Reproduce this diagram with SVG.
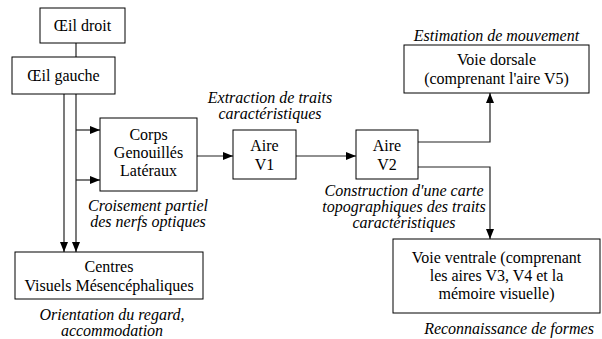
<svg xmlns="http://www.w3.org/2000/svg" width="602" height="339" viewBox="0 0 602 339">
<defs>
<marker id="ah" viewBox="0 0 10 8" refX="10" refY="4" markerWidth="10" markerHeight="8" markerUnits="userSpaceOnUse" orient="auto">
<path d="M0,0 L10,4 L0,8 Z" fill="#000"/>
</marker>
</defs>
<rect width="602" height="339" fill="#fff"/>
<g id="connectors" fill="none" stroke="#222" stroke-width="1.2">
<path d="M76,43 V57"/>
<path d="M64,94 V252" marker-end="url(#ah)"/>
<path d="M76,94 V252" marker-end="url(#ah)"/>
<path d="M76,130 H100" marker-end="url(#ah)"/>
<path d="M76,180 H100" marker-end="url(#ah)"/>
<path d="M197,156 H233" marker-end="url(#ah)"/>
<path d="M296,156 H356" marker-end="url(#ah)"/>
<path d="M418,142 H490 V93" marker-end="url(#ah)"/>
<path d="M418,167 H490 V239" marker-end="url(#ah)"/>
</g>
<g id="oeil-droit">
<rect x="40" y="8" width="85" height="35" fill="#fff" stroke="#000"/>
<text font-family="Liberation Serif" font-size="16" text-anchor="middle" x="82.5" y="31">Œil droit</text>
</g>
<g id="oeil-gauche">
<rect x="12" y="57" width="103" height="37" fill="#fff" stroke="#000"/>
<text font-family="Liberation Serif" font-size="16" text-anchor="middle" x="63.5" y="81">Œil gauche</text>
</g>
<g id="corps">
<rect x="100" y="118" width="97" height="73" fill="#fff" stroke="#000"/>
<text font-family="Liberation Serif" font-size="16" text-anchor="middle" x="148.5" y="140">Corps</text>
<text font-family="Liberation Serif" font-size="16" text-anchor="middle" x="148.5" y="158">Genouillés</text>
<text font-family="Liberation Serif" font-size="16" text-anchor="middle" x="148.5" y="176">Latéraux</text>
<text font-family="Liberation Serif" font-size="16" font-style="italic" text-anchor="middle" x="148" y="211">Croisement partiel</text>
<text font-family="Liberation Serif" font-size="16" font-style="italic" text-anchor="middle" x="148" y="227">des nerfs optiques</text>
</g>
<g id="centres">
<rect x="15" y="252" width="188" height="47" fill="#fff" stroke="#000"/>
<text font-family="Liberation Serif" font-size="16" text-anchor="middle" x="109" y="272">Centres</text>
<text font-family="Liberation Serif" font-size="16" text-anchor="middle" x="109" y="291">Visuels Mésencéphaliques</text>
<text font-family="Liberation Serif" font-size="16" font-style="italic" text-anchor="middle" x="112" y="320">Orientation du regard,</text>
<text font-family="Liberation Serif" font-size="16" font-style="italic" text-anchor="middle" x="112" y="336">accommodation</text>
</g>
<g id="v1">
<rect x="233" y="130" width="63" height="49" fill="#fff" stroke="#000"/>
<text font-family="Liberation Serif" font-size="16" text-anchor="middle" x="264.5" y="151">Aire</text>
<text font-family="Liberation Serif" font-size="16" text-anchor="middle" x="264.5" y="170">V1</text>
<text font-family="Liberation Serif" font-size="16" font-style="italic" text-anchor="middle" x="270" y="103">Extraction de traits</text>
<text font-family="Liberation Serif" font-size="16" font-style="italic" text-anchor="middle" x="270" y="119">caractéristiques</text>
</g>
<g id="v2">
<rect x="356" y="130" width="62" height="49" fill="#fff" stroke="#000"/>
<text font-family="Liberation Serif" font-size="16" text-anchor="middle" x="387" y="151">Aire</text>
<text font-family="Liberation Serif" font-size="16" text-anchor="middle" x="387" y="170">V2</text>
<text font-family="Liberation Serif" font-size="16" font-style="italic" text-anchor="middle" x="404" y="196">Construction d'une carte</text>
<text font-family="Liberation Serif" font-size="16" font-style="italic" text-anchor="middle" x="404" y="212">topographiques des traits</text>
<text font-family="Liberation Serif" font-size="16" font-style="italic" text-anchor="middle" x="404" y="228">caractéristiques</text>
</g>
<g id="dorsale">
<rect x="404" y="45" width="185" height="48" fill="#fff" stroke="#000"/>
<text font-family="Liberation Serif" font-size="16" text-anchor="middle" x="496.5" y="65">Voie dorsale</text>
<text font-family="Liberation Serif" font-size="16" text-anchor="middle" x="496.5" y="84">(comprenant l'aire V5)</text>
<text font-family="Liberation Serif" font-size="16" font-style="italic" text-anchor="middle" x="496.5" y="41">Estimation de mouvement</text>
</g>
<g id="ventrale">
<rect x="393" y="239" width="207" height="74" fill="#fff" stroke="#000"/>
<text font-family="Liberation Serif" font-size="16" text-anchor="middle" x="496.5" y="263">Voie ventrale (comprenant</text>
<text font-family="Liberation Serif" font-size="16" text-anchor="middle" x="496.5" y="281">les aires V3, V4 et la</text>
<text font-family="Liberation Serif" font-size="16" text-anchor="middle" x="496.5" y="299">mémoire visuelle)</text>
<text font-family="Liberation Serif" font-size="16" font-style="italic" text-anchor="middle" x="509" y="334">Reconnaissance de formes</text>
</g>
</svg>
